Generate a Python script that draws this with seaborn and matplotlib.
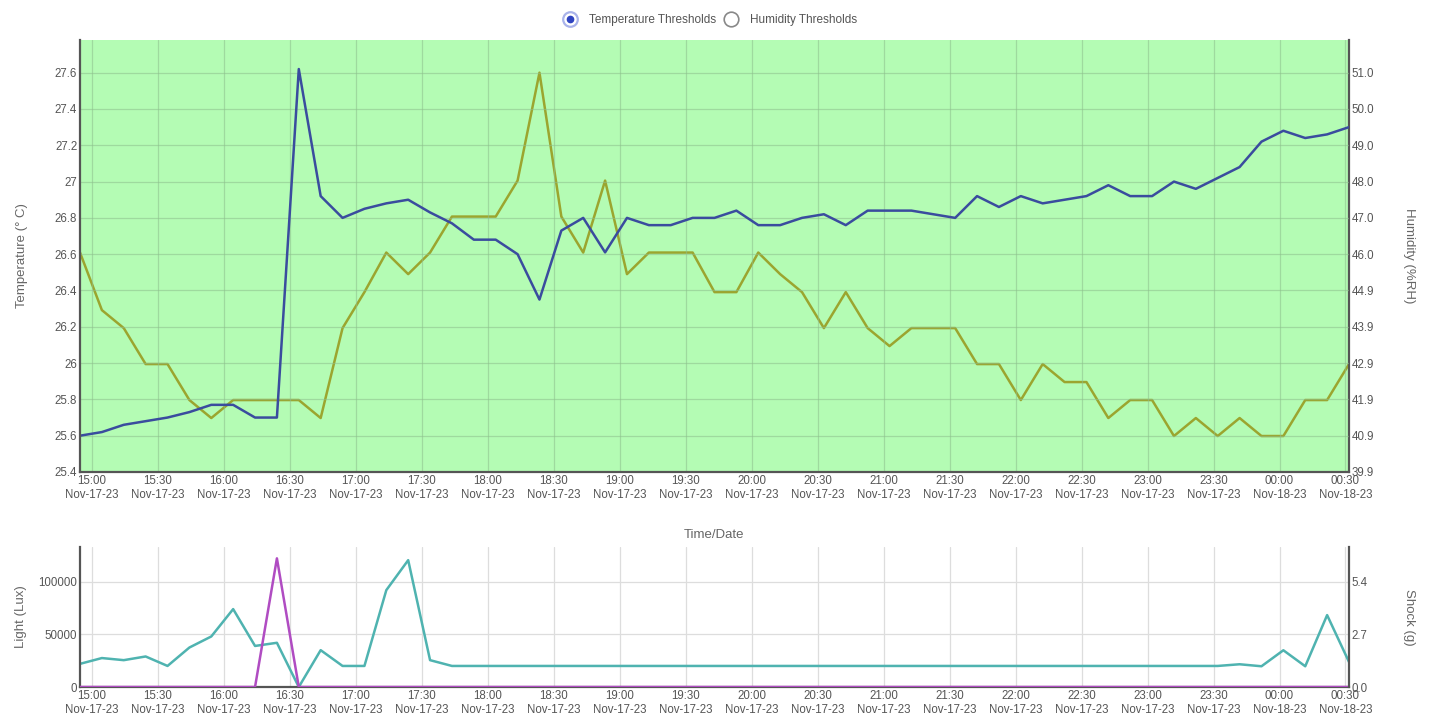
import matplotlib
matplotlib.use("Agg")
import matplotlib.dates as mdates
import matplotlib.pyplot as plt
import pandas as pd
import seaborn as sns
from matplotlib.legend_handler import HandlerTuple
from matplotlib.lines import Line2D
from matplotlib.ticker import FixedLocator, FuncFormatter

# ---------- data (one reading every ~10 min) ----------
TIMES = pd.date_range("2023-11-17 14:54:30", periods=59, freq="597s")

TEMPERATURE = [
    25.60, 25.62, 25.66, 25.68, 25.70, 25.73, 25.77, 25.77, 25.70, 25.70,
    27.62, 26.92, 26.80, 26.85, 26.88, 26.90, 26.83, 26.77, 26.68, 26.68,
    26.60, 26.35, 26.73, 26.80, 26.61, 26.80, 26.76, 26.76, 26.80, 26.80,
    26.84, 26.76, 26.76, 26.80, 26.82, 26.76, 26.84, 26.84, 26.84, 26.82,
    26.80, 26.92, 26.86, 26.92, 26.88, 26.90, 26.92, 26.98, 26.92, 26.92,
    27.00, 26.96, 27.02, 27.08, 27.22, 27.28, 27.24, 27.26, 27.30,
]

HUMIDITY = [
    46.0, 44.4, 43.9, 42.9, 42.9, 41.9, 41.4, 41.9, 41.9, 41.9,
    41.9, 41.4, 43.9, 44.9, 46.0, 45.4, 46.0, 47.0, 47.0, 47.0,
    48.0, 51.0, 47.0, 46.0, 48.0, 45.4, 46.0, 46.0, 46.0, 44.9,
    44.9, 46.0, 45.4, 44.9, 43.9, 44.9, 43.9, 43.4, 43.9, 43.9,
    43.9, 42.9, 42.9, 41.9, 42.9, 42.4, 42.4, 41.4, 41.9, 41.9,
    40.9, 41.4, 40.9, 41.4, 40.9, 40.9, 41.9, 41.9, 42.9,
]

LIGHT = [
    22000, 27500, 25500, 29000, 20000, 37500, 48000, 74000, 39000, 42000,
    0, 35000, 20000, 20000, 92000, 120500, 25500, 20000, 20000, 20000,
    20000, 20000, 20000, 20000, 20000, 20000, 20000, 20000, 20000, 20000,
    20000, 20000, 20000, 20000, 20000, 20000, 20000, 20000, 20000, 20000,
    20000, 20000, 20000, 20000, 20000, 20000, 20000, 20000, 20000, 20000,
    20000, 20000, 20000, 21600, 19700, 34900, 19700, 68300, 23800,
]

SHOCK = [
    0, 0, 0, 0, 0, 0, 0, 0, 0, 6.6,
    0, 0, 0, 0, 0, 0, 0, 0, 0, 0,
    0, 0, 0, 0, 0, 0, 0, 0, 0, 0,
    0, 0, 0, 0, 0, 0, 0, 0, 0, 0,
    0, 0, 0, 0, 0, 0, 0, 0, 0, 0,
    0, 0, 0, 0, 0, 0, 0, 0, 0,
]

TEMP_TICKS = [25.4, 25.6, 25.8, 26.0, 26.2, 26.4, 26.6, 26.8, 27.0, 27.2, 27.4, 27.6]
HUM_TICK_LABELS = ["39.9", "40.9", "41.9", "42.9", "43.9", "44.9",
                   "46.0", "47.0", "48.0", "49.0", "50.0", "51.0"]
LIGHT_TICKS = [0, 50000, 100000]
SHOCK_TICKS = [0.0, 2.7, 5.4]
LEGEND_LABELS = ["Temperature Thresholds", "Humidity Thresholds"]

# ---------- style ----------
sns.set_theme(style="white")
plt.rcParams["font.family"] = ["Liberation Sans", "DejaVu Sans"]

BLUE = "#3a4c9e"
OLIVE = "#9ba52f"
TEAL = "#4fb3b0"
PURPLE = "#b04cc2"
GREEN_BG = "#b4fcb4"
SPINE = "#555555"
TXT = "#666666"
TICK_FS = 8.3
LABEL_FS = 9.5
LW = 1.8

fig = plt.figure(figsize=(14.32, 7.15), dpi=100)
ax_t = fig.add_axes([80 / 1432, 1 - 472 / 715, 1269 / 1432, 432 / 715])
ax_h = ax_t.twinx()
ax_l = fig.add_axes([80 / 1432, 1 - 687 / 715, 1269 / 1432, 140 / 715])
ax_s = ax_l.twinx()

# ---------- top chart: temperature + humidity ----------
sns.lineplot(x=TIMES, y=HUMIDITY, ax=ax_h, color=OLIVE, lw=LW)
sns.lineplot(x=TIMES, y=TEMPERATURE, ax=ax_t, color=BLUE, lw=LW)
ax_t.set_zorder(ax_h.get_zorder() + 1)
ax_t.patch.set_visible(False)
ax_h.patch.set_visible(True)
ax_h.patch.set_facecolor(GREEN_BG)

t_lo, t_hi = 25.4, 27.78
ax_t.set_ylim(t_lo, t_hi)
ax_t.yaxis.set_major_locator(FixedLocator(TEMP_TICKS))
ax_t.yaxis.set_major_formatter(FuncFormatter(lambda v, p: f"{v:g}"))

# humidity axis is linearly tied to the temperature axis
h_lo = 39.9
h_step = 1.00909
h_hi = h_lo + (t_hi - t_lo) / 0.2 * h_step
ax_h.set_ylim(h_lo, h_hi)
ax_h.yaxis.set_major_locator(FixedLocator([h_lo + i * h_step for i in range(len(HUM_TICK_LABELS))]))
ax_h.set_yticklabels(HUM_TICK_LABELS)

ax_t.set_ylabel("Temperature (° C)", color=TXT, fontsize=LABEL_FS, labelpad=19)
ax_h.set_ylabel("Humidity (%RH)", color=TXT, fontsize=LABEL_FS, rotation=270, labelpad=29)

# ---------- bottom chart: light + shock ----------
sns.lineplot(x=TIMES, y=LIGHT, ax=ax_l, color=TEAL, lw=LW)
sns.lineplot(x=TIMES, y=SHOCK, ax=ax_s, color=PURPLE, lw=LW)
ax_l.set_ylim(0, 133000)
ax_l.yaxis.set_major_locator(FixedLocator(LIGHT_TICKS))
ax_l.yaxis.set_major_formatter(FuncFormatter(lambda v, p: f"{v:.0f}"))
ax_s.set_ylim(0, 133000 / 18518.5)
ax_s.yaxis.set_major_locator(FixedLocator(SHOCK_TICKS))
ax_s.yaxis.set_major_formatter(FuncFormatter(lambda v, p: f"{v:.1f}"))
ax_l.set_ylabel("Light (Lux)", color=TXT, fontsize=LABEL_FS, labelpad=8)
ax_s.set_ylabel("Shock (g)", color=TXT, fontsize=LABEL_FS, rotation=270, labelpad=34)

# ---------- shared axis cosmetics ----------
for ax in (ax_t, ax_h, ax_l, ax_s):
    ax.set_xlim(TIMES[0], TIMES[-1])
    ax.xaxis.set_major_locator(mdates.MinuteLocator(byminute=[0, 30]))
    ax.xaxis.set_major_formatter(mdates.DateFormatter("%H:%M\n%b-%d-%y"))
    ax.tick_params(axis="both", length=0, pad=2, labelsize=TICK_FS, colors="#555555")
    ax.set_xlabel("")
    for s in ax.spines.values():
        s.set_visible(False)

for ax in (ax_h, ax_s):
    ax.tick_params(axis="x", labelbottom=False)

for ax in (ax_t, ax_l):
    for side in ("left", "bottom"):
        ax.spines[side].set_visible(True)
        ax.spines[side].set_color(SPINE)
        ax.spines[side].set_linewidth(1.6)
for ax in (ax_h, ax_s):
    ax.spines["right"].set_visible(True)
    ax.spines["right"].set_color(SPINE)
    ax.spines["right"].set_linewidth(1.6)

ax_t.grid(True, color="#8dbf8d", lw=0.9, alpha=0.55)
ax_l.grid(True, color="#dddddd", lw=0.9)
ax_h.grid(False)
ax_s.grid(False)

fig.text(714 / 1432, 1 - 535 / 715, "Time/Date", ha="center", va="center",
         color=TXT, fontsize=LABEL_FS)

# ---------- radio-button style legend ----------
selected = (
    Line2D([], [], ls="", marker="o", ms=10.5, mfc="white", mec="#a9b3ea", mew=1.6),
    Line2D([], [], ls="", marker="o", ms=4.5, mfc="#2f44c0", mec="#2f44c0"),
)
unselected = Line2D([], [], ls="", marker="o", ms=10.5, mfc="white", mec="#888888", mew=1.2)
fig.legend([selected, unselected], LEGEND_LABELS,
           handler_map={tuple: HandlerTuple(ndivide=1)},
           loc="center", bbox_to_anchor=(710 / 1432, 1 - 20 / 715), ncol=2,
           frameon=False, fontsize=8.5, handlelength=1.2, handletextpad=1.0,
           columnspacing=0.6, labelcolor="#555555")

fig.savefig("out.png", dpi=100)
